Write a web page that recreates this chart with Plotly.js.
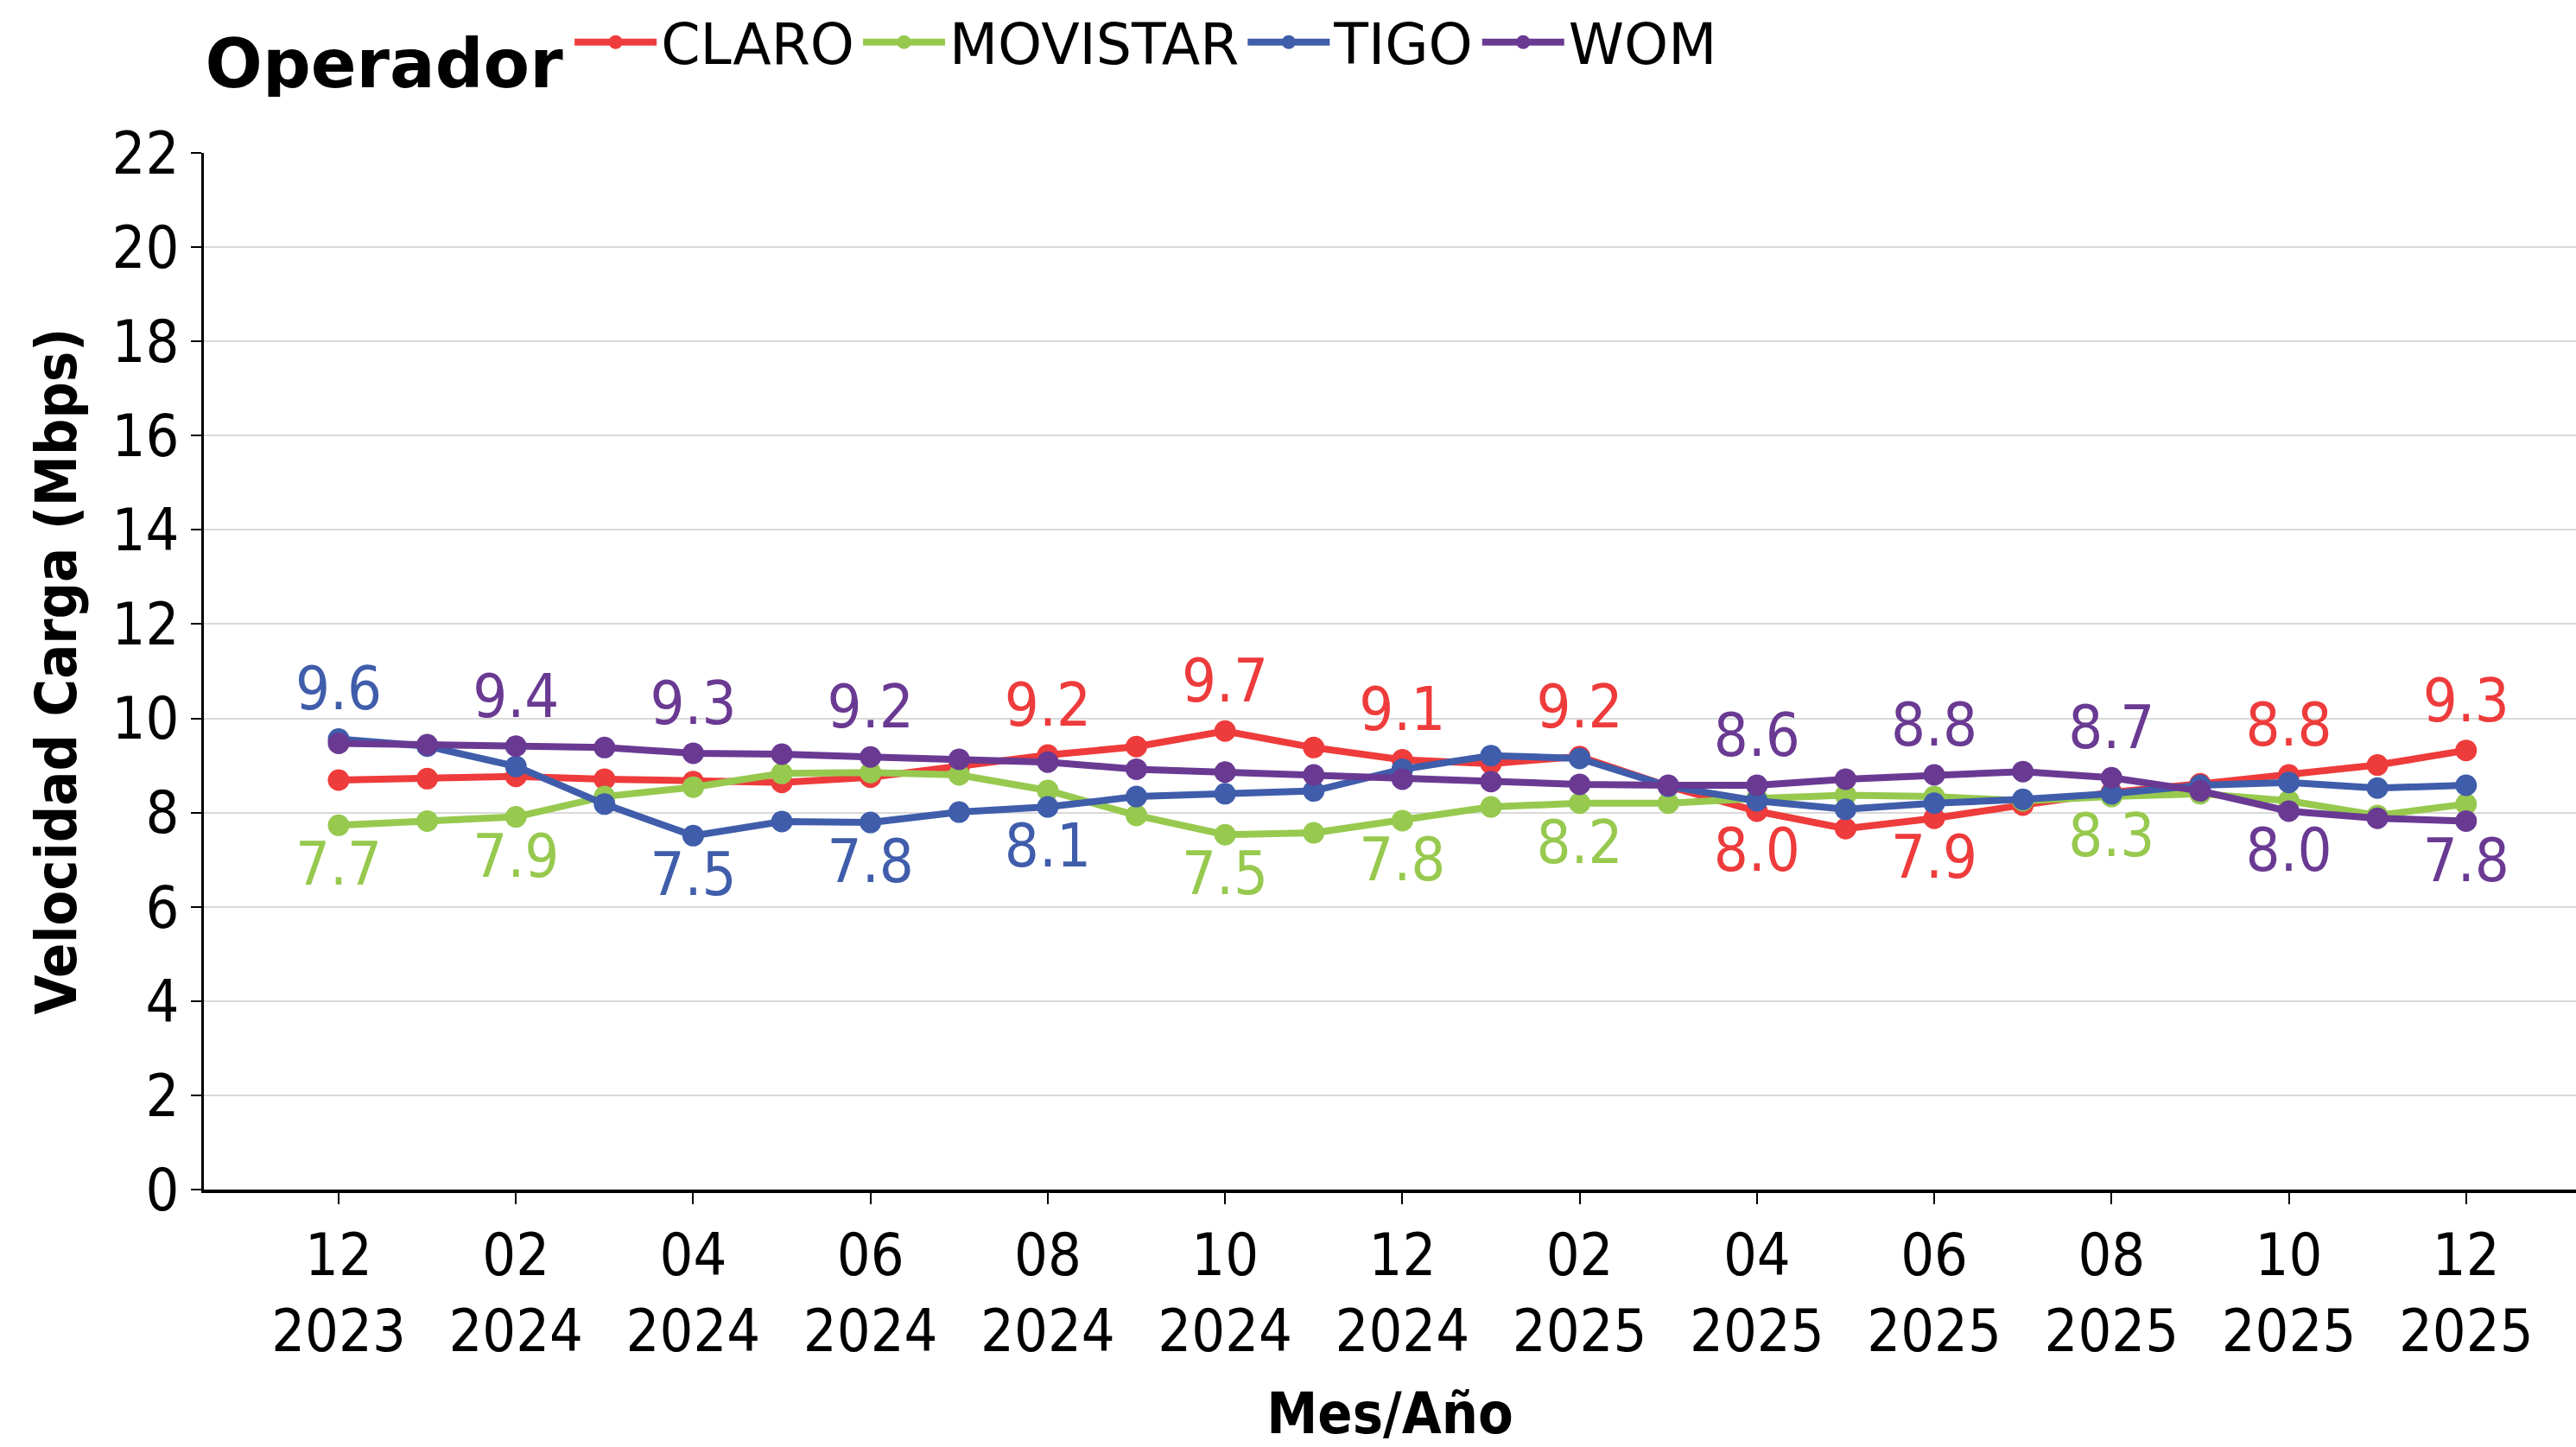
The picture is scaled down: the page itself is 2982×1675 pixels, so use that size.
<!DOCTYPE html>
<html>
<head>
<meta charset="utf-8">
<script src="https://cdn.plot.ly/plotly-3.0.1.min.js"></script>
<style>html,body{margin:0;padding:0;background:#fff;}#chart{width:2982px;height:1675px;}</style>
</head>
<body>
<div id="chart"></div>
<script>
// Month labels (Mes/Año)
const months = ["12<br>2023","01<br>2024","02<br>2024","03<br>2024","04<br>2024","05<br>2024","06<br>2024","07<br>2024","08<br>2024","09<br>2024","10<br>2024","11<br>2024","12<br>2024","01<br>2025","02<br>2025","03<br>2025","04<br>2025","05<br>2025","06<br>2025","07<br>2025","08<br>2025","09<br>2025","10<br>2025","11<br>2025","12<br>2025"];
const operators = ["CLARO","MOVISTAR","TIGO","WOM"];
const colors = ["#EE3B3B","#97C94F","#3F5DAA","#6A3A93"];
const claro    = [8.69,8.72,8.77,8.71,8.66,8.64,8.75,8.98,9.22,9.40,9.73,9.38,9.12,9.04,9.19,8.56,8.03,7.66,7.88,8.16,8.43,8.61,8.80,9.01,9.32];
const movistar = [7.73,7.82,7.91,8.34,8.54,8.83,8.85,8.80,8.47,7.94,7.53,7.57,7.83,8.12,8.20,8.20,8.30,8.37,8.34,8.25,8.34,8.40,8.25,7.94,8.18];
const tigo     = [9.56,9.41,8.98,8.18,7.51,7.81,7.79,8.01,8.12,8.34,8.40,8.46,8.92,9.21,9.15,8.56,8.25,8.07,8.20,8.28,8.40,8.58,8.64,8.52,8.58];
const wom      = [9.47,9.44,9.41,9.38,9.26,9.24,9.18,9.13,9.07,8.92,8.86,8.80,8.71,8.66,8.60,8.58,8.58,8.71,8.80,8.87,8.74,8.46,8.03,7.88,7.82];
const series = [claro, movistar, tigo, wom];

const FONT = "DejaVu Sans Condensed, DejaVu Sans, sans-serif";
const FONTW = "DejaVu Sans, sans-serif";
const xs = months.map((m,i)=>i);
const tickIdx = xs.filter(i=>i%2===0);

const traces = series.map((vals, s) => {
  const text = vals.map(()=>"");
  const pos = vals.map(()=>"top center");
  tickIdx.forEach(i => {
    const col = series.map(v=>v[i]);
    const mx = Math.max(...col), mn = Math.min(...col);
    if (vals[i] === mx) { text[i] = vals[i].toFixed(1); pos[i] = "top center"; }
    else if (vals[i] === mn) { text[i] = vals[i].toFixed(1); pos[i] = "bottom center"; }
  });
  return {
    x: xs, y: vals, name: operators[s], type: "scatter", mode: "lines+markers+text",
    line: {color: colors[s], width: 8},
    marker: {color: colors[s], size: 25},
    text: text, textposition: pos,
    textfont: {family: FONT, size: 70, color: colors[s]},
    cliponaxis: false, hoverinfo: "skip"
  };
});

const layout = {
  width: 2982, height: 1675,
  paper_bgcolor: "#fff", plot_bgcolor: "#fff",
  margin: {l: 236, r: 0, t: 177, b: 298},
  font: {family: FONT, size: 68, color: "#000"},
  showlegend: true,
  legend: {
    orientation: "h", x: 0.079, xanchor: "left", y: 1.0, yanchor: "top",
    yref: "container", xref: "container",
    title: {text: "<b>Operador</b>", font: {family: FONTW, size: 78, color: "#000"}},
    font: {family: FONTW, size: 65, color: "#000"},
    itemwidth: 95, tracegroupgap: 0
  },
  xaxis: {
    range: [-1.52, 25.24],
    tickmode: "array", tickvals: tickIdx, ticktext: tickIdx.map(i=>months[i]),
    ticks: "outside", ticklen: 13, tickwidth: 2, tickcolor: "#000",
    showline: true, linecolor: "#000", linewidth: 4,
    showgrid: false, zeroline: false,
    tickfont: {family: FONT, size: 68, color: "#000"},
    title: {text: "<b>Mes/Año</b>", font: {family: FONT, size: 66, color: "#000"}, standoff: 48}
  },
  yaxis: {
    range: [0, 22], dtick: 2, tick0: 0,
    ticks: "outside", ticklen: 12, tickwidth: 2, tickcolor: "#000",
    showline: true, linecolor: "#000", linewidth: 3,
    showgrid: true, gridcolor: "#D9D9D9", gridwidth: 2, zeroline: false,
    tickfont: {family: FONT, size: 68, color: "#000"},
    title: {text: "<b>Velocidad Carga (Mbps)</b>", font: {family: FONT, size: 66, color: "#000"}, standoff: 20}
  }
};

Plotly.newPlot("chart", traces, layout, {displayModeBar: false, staticPlot: true});
</script>
</body>
</html>
